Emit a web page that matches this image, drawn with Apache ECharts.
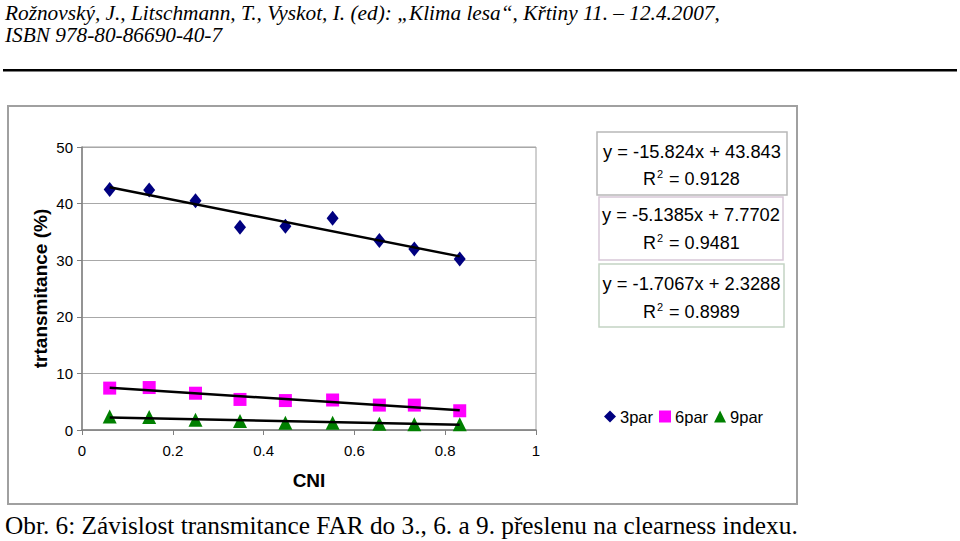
<!DOCTYPE html>
<html><head><meta charset="utf-8">
<script src="https://cdn.jsdelivr.net/npm/echarts@6/dist/echarts.min.js"></script>
<style>html,body{margin:0;padding:0;background:#fff}#c{width:960px;height:541px}</style>
</head><body><div id="c"></div>
<script>
// ---- data ----
const cni = [0.061, 0.148, 0.250, 0.348, 0.448, 0.552, 0.655, 0.732, 0.832];
const par3 = [42.5, 42.4, 40.5, 35.8, 36.0, 37.4, 33.5, 32.0, 30.2];
const par6 = [7.4, 7.5, 6.5, 5.4, 5.2, 5.3, 4.4, 4.4, 3.4];
const par9 = [2.4, 2.3, 1.8, 1.6, 1.3, 1.3, 1.1, 1.0, 1.0];
const seriesNames = ['3par', '6par', '9par'];
const trendSlope = [-15.824, -5.1385, -1.7067];
const trendIntercept = [43.843, 7.7702, 2.3288];
const trendR2 = ['0.9128', '0.9481', '0.8989'];
const xTicks = [0, 0.2, 0.4, 0.6, 0.8, 1];
const yTicks = [0, 10, 20, 30, 40, 50];

const chart = echarts.init(document.getElementById('c'), null, {renderer: 'svg'});
const pts = v => cni.map((x, i) => [x, v[i]]);
const xMin = Math.min(...cni), xMax = Math.max(...cni);
const trend = k => [[xMin, trendSlope[k] * xMin + trendIntercept[k]], [xMax, trendSlope[k] * xMax + trendIntercept[k]]];
const fmt = v => (v >= 0 ? '+ ' + v : '- ' + (-v));
const eqText = k => 'y = ' + trendSlope[k] + 'x ' + fmt(trendIntercept[k]);

const colors = ['#000080', '#FF00FF', '#008000'];
const symbols = ['diamond', 'rect', 'triangle'];
const sizes = [[12, 15], 13, 14];
const dataSets = [par3, par6, par9];

const series = [];
dataSets.forEach((d, k) => {
  series.push({name: seriesNames[k], type: 'scatter', data: pts(d), symbol: symbols[k], symbolSize: sizes[k],
    itemStyle: {color: colors[k], opacity: 1}, z: 3, silent: true});
});
dataSets.forEach((d, k) => {
  series.push({type: 'line', data: trend(k), symbol: 'none', lineStyle: {color: '#000', width: 2.5}, z: 4, silent: true});
});

const boxes = [
  {x: 597, y: 132, w: 190, h: 63, c: '#b8b8b8', l1y: 151, l2y: 179},
  {x: 599, y: 197, w: 184, h: 63, c: '#d8c8d8', l1y: 214, l2y: 243},
  {x: 599, y: 264, w: 185, h: 63, c: '#c4d4c4', l1y: 283, l2y: 312}
];
const graphics = [];
graphics.push({type: 'text', left: 5, top: 2, style: {text: 'Rožnovský, J., Litschmann, T., Vyskot, I. (ed): „Klima lesa“, Křtiny 11. – 12.4.2007,', font: 'italic 21.3px "Liberation Serif"', fill: '#000'}});
graphics.push({type: 'text', left: 5, top: 24, style: {text: 'ISBN 978-80-86690-40-7', font: 'italic 21.3px "Liberation Serif"', fill: '#000'}});
graphics.push({type: 'rect', shape: {x: 3, y: 69, width: 954, height: 2.5}, style: {fill: '#000'}});
graphics.push({type: 'rect', shape: {x: 8, y: 106, width: 789, height: 398}, style: {fill: 'none', stroke: '#a0a0a0', lineWidth: 2}, z: -1});
graphics.push({type: 'text', left: 5, top: 512, style: {text: 'Obr. 6: Závislost transmitance FAR do 3., 6. a 9. přeslenu na clearness indexu.', font: '25.3px "Liberation Serif"', fill: '#000'}});
boxes.forEach((b, k) => {
  graphics.push({type: 'rect', shape: {x: b.x, y: b.y, width: b.w, height: b.h}, style: {fill: '#fff', stroke: b.c, lineWidth: 1.5}});
  graphics.push({type: 'text', x: b.x + b.w / 2, y: b.l1y, style: {text: eqText(k), font: '18.3px "Liberation Sans"', fill: '#000', align: 'center', verticalAlign: 'middle'}});
  graphics.push({type: 'text', x: 643, y: b.l2y, style: {text: '{a|R}{s|2}{a| = ' + trendR2[k] + '}', font: '18px "Liberation Sans"', fill: '#000', align: 'left', verticalAlign: 'middle',
    rich: {a: {fontSize: 18, fontFamily: 'Liberation Sans', lineHeight: 22}, s: {fontSize: 11, fontFamily: 'Liberation Sans', verticalAlign: 'top', lineHeight: 22, padding: [0, 1, 9, 1]}}}});
});

chart.setOption({
  animation: false,
  textStyle: {fontFamily: 'Liberation Sans'},
  grid: {left: 82, top: 147, width: 454, height: 283, show: true, borderColor: '#a0a0a0', borderWidth: 1},
  legend: {data: seriesNames, left: 599, top: 403, itemWidth: 12, itemHeight: 12, itemGap: 6,
    textStyle: {fontSize: 16.5, color: '#000', padding: [0, 0, 0, -1]}},
  xAxis: {type: 'value', min: 0, max: 1, interval: 0.2, name: 'CNI', nameLocation: 'middle', nameGap: 41,
    nameTextStyle: {fontSize: 19, fontWeight: 'bold', color: '#000'},
    axisLine: {lineStyle: {color: '#808080', width: 1.5}}, axisTick: {show: true, length: 5, lineStyle: {color: '#808080'}},
    axisLabel: {fontSize: 15, color: '#000', margin: 13, formatter: v => xTicks.includes(+v.toFixed(1)) ? String(+v.toFixed(1)) : ''},
    splitLine: {show: false}},
  yAxis: {type: 'value', min: 0, max: 50, interval: 10, name: 'trtansmitance (%)', nameLocation: 'middle', nameGap: 32,
    nameTextStyle: {fontSize: 19, fontWeight: 'bold', color: '#000'},
    axisLine: {show: true, lineStyle: {color: '#808080', width: 1.5}}, axisTick: {show: true, length: 5, lineStyle: {color: '#808080'}},
    axisLabel: {fontSize: 15, color: '#000', margin: 9, formatter: v => yTicks.includes(v) ? String(v) : ''},
    splitLine: {show: true, lineStyle: {color: '#a8a8a8', width: 1}}},
  graphic: graphics,
  series: series
});
</script></body></html>
